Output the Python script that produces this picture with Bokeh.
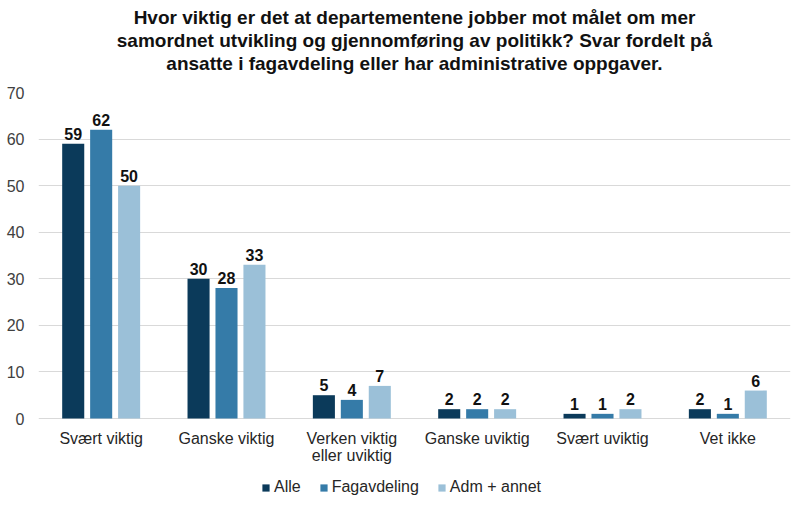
from bokeh.plotting import figure
from bokeh.models import (FactorRange, Range1d, ColumnDataSource, Legend, LegendItem,
                          Title, FixedTicker)
from bokeh.transform import dodge
from bokeh.core.properties import value
from bokeh.embed import file_html
from bokeh.resources import INLINE

categories = ["Svært viktig", "Ganske viktig", "Verken viktig\neller uviktig",
              "Ganske uviktig", "Svært uviktig", "Vet ikke"]
alle = [59, 30, 5, 2, 1, 2]
fagavdeling = [62, 28, 4, 2, 1, 1]
adm_annet = [50, 33, 7, 2, 2, 6]
series_names = ["Alle", "Fagavdeling", "Adm + annet"]
y_ticks = [0, 10, 20, 30, 40, 50, 60, 70]
colors = ["#0b3a5a", "#357ba8", "#9bc0d8"]
title_lines = [
    "Hvor viktig er det at departementene jobber mot målet om mer",
    "samordnet utvikling og gjennomføring av politikk? Svar fordelt på",
    "ansatte i fagavdeling eller har administrative oppgaver.",
]

FONT = "Liberation Sans"

# vertical scale: 326 px for the 0-70 span, plus 87 px below zero for the
# category labels and the legend
PX_PER_UNIT = 326 / 70
Y_BOTTOM = -87 / PX_PER_UNIT

source = ColumnDataSource(dict(
    cat=categories,
    zero=[0] * len(categories),
    alle=alle, fag=fagavdeling, adm=adm_annet,
    alle_t=[str(v) for v in alle],
    fag_t=[str(v) for v in fagavdeling],
    adm_t=[str(v) for v in adm_annet],
))

p = figure(frame_width=752, frame_height=413, x_range=FactorRange(*categories),
           y_range=Range1d(Y_BOTTOM, 70), output_backend="svg",
           toolbar_location=None, min_border_left=38, min_border_right=10,
           min_border_top=92, min_border_bottom=0)
p.x_range.range_padding = 0

offset = 0.223
bar_w = 0.176
renderers = []
for key, off, col in zip(["alle", "fag", "adm"], [-offset, 0, offset], colors):
    r = p.vbar(x=dodge("cat", off, range=p.x_range), top=key, width=bar_w,
               source=source, color=col, line_color=None)
    renderers.append(r)
    p.text(x=dodge("cat", off, range=p.x_range), y=key, text=key + "_t",
           source=source, text_align="center", text_baseline="alphabetic",
           y_offset=-10, text_font=value(FONT), text_font_size="16px",
           text_font_style="bold", text_color="#111111")

# category labels under the baseline
p.text(x="cat", y="zero", text="cat", source=source, text_align="center",
       text_baseline="top", y_offset=11, text_font=value(FONT),
       text_font_size="16px", text_color="#262626", text_line_height=1.05)

# axes
p.xaxis.visible = False
p.yaxis.ticker = FixedTicker(ticks=y_ticks)
p.yaxis.axis_line_color = None
p.yaxis.major_tick_line_color = None
p.yaxis.minor_tick_line_color = None
p.yaxis.major_label_text_font = FONT
p.yaxis.major_label_text_font_size = "16px"
p.yaxis.major_label_text_color = "#404040"
p.yaxis.major_label_standoff = 8

p.xgrid.grid_line_color = None
p.ygrid.grid_line_color = "#d9d9d9"
p.outline_line_color = None

# spacer between the plot and the title, then the three title lines
p.add_layout(Title(text=" ", text_font_size="15px", standoff=0, offset=0), "above")
for line in reversed(title_lines):
    p.add_layout(Title(text=line, align="center", text_font=FONT,
                       text_font_size="19px", text_font_style="bold",
                       text_color="#111111", text_line_height=0.88,
                       standoff=0, offset=0), "above")

legend = Legend(items=[LegendItem(label=n, renderers=[r])
                       for n, r in zip(series_names, renderers)],
                orientation="horizontal", location=(223, 9),
                label_text_font=FONT, label_text_font_size="16px",
                label_text_color="#262626", glyph_width=9, glyph_height=9,
                spacing=18, label_standoff=4, border_line_color=None,
                background_fill_alpha=0, padding=0, margin=0)
p.add_layout(legend, "center")

open("out.html", "w").write(file_html(p, INLINE))
